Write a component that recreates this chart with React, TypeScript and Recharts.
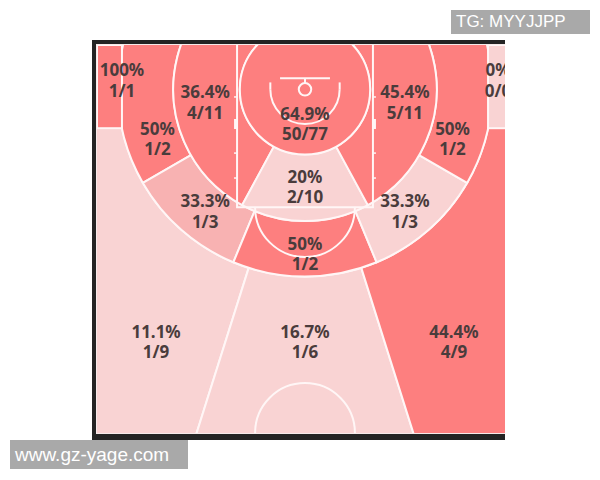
import { Scatter, ScatterChart, Sector, XAxis, YAxis } from 'recharts';

// shot zones (same index in every array)
const zoneNames = [
  'Left Corner 3',
  'Left Baseline Mid',
  'Left Paint',
  'Restricted Area',
  'Right Paint',
  'Right Baseline Mid',
  'Right Corner 3',
  'Paint Center',
  'Left Wing Mid',
  'Right Wing Mid',
  'Top Mid',
  'Left Above Break 3',
  'Top 3',
  'Right Above Break 3',
];
const made = [1, 1, 4, 50, 5, 1, 0, 2, 1, 1, 1, 1, 1, 4];
const attempts = [1, 2, 11, 77, 11, 2, 0, 10, 3, 3, 2, 9, 6, 9];
const pctLabels = ['100%', '50%', '36.4%', '64.9%', '45.4%', '50%', '0%', '20%', '33.3%', '33.3%', '50%', '11.1%', '16.7%', '44.4%'];
const heat = ['hot', 'hot', 'hot', 'hot', 'hot', 'hot', 'cold', 'cold', 'warm', 'cold', 'hot', 'cold', 'cold', 'hot'];

// court layout: FIBA half court in metres, hoop on x = 0
const COURT_W = 15;
const COURT_H = 14;
const CHART_W = 416;
const CHART_H = 388;
const PX = CHART_W / COURT_W;
const HOOP_Y = 1.6;
const R_CLOSE = 2.35;
const R_MID = 4.75;
const R_THREE = 6.75;
const R_FAR = 16;
const CORNER_X = 6.6;
const CORNER_Y = 3.0;
const FT_Y = 5.85;
const LANE_X = 2.45;

const FILL: Record<string, string> = { hot: '#fd7f7f', warm: '#f8b2b2', cold: '#f9d3d3' };
const LINE = '#fff6f6';
const LINE_W = 2;
const TEXT = '#4a3c3c';

type Wedge = { zone: number; inner: number; outer: number; start: number; end: number; edge?: boolean };

// angles: 0 = right, counter-clockwise, -90 = straight down from the hoop
const outerWedges: Wedge[] = [
  { zone: 11, inner: R_THREE, outer: R_FAR, start: -270, end: -107.5 },
  { zone: 12, inner: R_THREE, outer: R_FAR, start: -107.5, end: -72.5 },
  { zone: 13, inner: R_THREE, outer: R_FAR, start: -72.5, end: 90 },
  { zone: 1, inner: R_MID, outer: R_THREE, start: -270, end: -150 },
  { zone: 8, inner: R_MID, outer: R_THREE, start: -150, end: -112.5 },
  { zone: 10, inner: R_MID, outer: R_THREE, start: -112.5, end: -67.5 },
  { zone: 9, inner: R_MID, outer: R_THREE, start: -67.5, end: -30 },
  { zone: 5, inner: R_MID, outer: R_THREE, start: -30, end: 90 },
];
const innerWedges: Wedge[] = [
  { zone: 2, inner: R_CLOSE, outer: R_MID, start: -270, end: -118.5 },
  { zone: 7, inner: R_CLOSE, outer: R_MID, start: -118.5, end: -61.5 },
  { zone: 4, inner: R_CLOSE, outer: R_MID, start: -61.5, end: 90 },
  { zone: 3, inner: 0, outer: R_CLOSE, start: -270, end: 90, edge: false },
];
const cornerBoxes = [
  { zone: 0, x: -COURT_W / 2, y: 0, w: COURT_W / 2 - CORNER_X, h: CORNER_Y },
  { zone: 6, x: CORNER_X, y: 0, w: COURT_W / 2 - CORNER_X, h: CORNER_Y },
];
const arcs = [
  { x: 0, y: HOOP_Y, r: R_CLOSE, full: true },
  { x: 0, y: HOOP_Y, r: 0.225, full: true },
  { x: 0, y: HOOP_Y, r: 1.25, from: 180, to: 360 },
  { x: 0, y: FT_Y, r: 1.8, from: 180, to: 360 },
  { x: 0, y: COURT_H, r: 1.8, from: 0, to: 180 },
];
const courtLines = [
  [[-LANE_X, 0], [-LANE_X, FT_Y], [LANE_X, FT_Y], [LANE_X, 0]],
  [[-0.9, 1.2], [0.9, 1.2]],
  [[0, 1.2], [0, HOOP_Y - 0.225]],
  [[-1.25, 1.35], [-1.25, HOOP_Y]],
  [[1.25, 1.35], [1.25, HOOP_Y]],
];
const laneTicks = [1.875, 3.9, 4.8];
const laneBlock = { y: 2.67, h: 0.36 };
const labelSpots = [
  [-6.6, 1.28], [-5.32, 3.39], [-3.6, 2.06], [0, 2.85], [3.6, 2.06], [5.32, 3.39], [6.96, 1.28],
  [0, 5.11], [-3.6, 5.99], [3.6, 5.99], [0, 7.54], [-5.37, 10.71], [0, 10.71], [5.37, 10.71],
];

const polar = (cx: number, cy: number, r: number, deg: number) => ({
  x: cx + r * Math.cos((deg * Math.PI) / 180),
  y: cy - r * Math.sin((deg * Math.PI) / 180),
});

function WedgeShape(props: any) {
  const { cx, cy, payload } = props;
  return (
    <Sector
      cx={cx}
      cy={cy}
      innerRadius={payload.inner * PX}
      outerRadius={payload.outer * PX}
      startAngle={payload.start}
      endAngle={payload.end}
      fill={FILL[heat[payload.zone]]}
      stroke={payload.edge === false ? 'none' : LINE}
      strokeWidth={LINE_W}
    />
  );
}

function BoxShape(props: any) {
  const { cx, cy, payload } = props;
  return (
    <rect
      x={cx}
      y={cy}
      width={payload.w * PX}
      height={payload.h * PX}
      fill={FILL[heat[payload.zone]]}
      stroke={LINE}
      strokeWidth={LINE_W}
    />
  );
}

function ArcShape(props: any) {
  const { cx, cy, payload } = props;
  const r = payload.r * PX;
  if (payload.full) {
    return <circle cx={cx} cy={cy} r={r} fill="none" stroke={LINE} strokeWidth={LINE_W} />;
  }
  const p1 = polar(cx, cy, r, payload.from);
  const p2 = polar(cx, cy, r, payload.to);
  const large = payload.to - payload.from > 180 ? 1 : 0;
  return (
    <path
      d={`M${p1.x},${p1.y} A${r},${r} 0 ${large} 0 ${p2.x},${p2.y}`}
      fill="none"
      stroke={LINE}
      strokeWidth={LINE_W}
    />
  );
}

function TickShape(props: any) {
  const { cx, cy, payload } = props;
  if (payload.block) {
    const x = payload.side < 0 ? cx - 3 : cx;
    return <rect x={x} y={cy} width={3} height={laneBlock.h * PX} fill={LINE} />;
  }
  return <line x1={cx} y1={cy} x2={cx + payload.side * 3} y2={cy} stroke={LINE} strokeWidth={1.5} />;
}

function LabelShape(props: any) {
  const { cx, cy, payload } = props;
  const z = payload.zone;
  return (
    <text
      x={cx}
      y={cy - 4}
      textAnchor="middle"
      fontFamily="'Noto Sans', sans-serif"
      fontWeight={700}
      fontSize={17}
      fill={TEXT}
    >
      <tspan x={cx}>{pctLabels[z]}</tspan>
      <tspan x={cx} dy={20.5}>{`${made[z]}/${attempts[z]}`}</tspan>
    </text>
  );
}

const NoDot = () => null;

export default function App() {
  const toHoop = (w: Wedge) => ({ x: 0, y: HOOP_Y, ...w });
  const ticks = [-1, 1].flatMap((side) => [
    ...laneTicks.map((y) => ({ x: side * LANE_X, y, side })),
    { x: side * LANE_X, y: laneBlock.y, side, block: true },
  ]);
  const labels = zoneNames.map((name, i) => ({ name, zone: i, x: labelSpots[i][0], y: labelSpots[i][1] }));

  return (
    <div style={{ position: 'absolute', left: 0, top: 0, width: 600, height: 480, background: '#fff', overflow: 'hidden' }}>
      <div style={{ position: 'absolute', left: 92, top: 40, width: 413, height: 400, background: '#242424' }} />
      <div style={{ position: 'absolute', left: 96, top: 44, width: 409, height: 390, background: '#f6eaea' }} />
      <div style={{ position: 'absolute', left: 97, top: 45, width: 408, height: CHART_H, overflow: 'hidden' }}>
        <ScatterChart width={CHART_W} height={CHART_H} margin={{ top: 0, right: 0, bottom: 0, left: 0 }}>
          <XAxis type="number" dataKey="x" domain={[-COURT_W / 2, COURT_W / 2]} hide allowDataOverflow />
          <YAxis type="number" dataKey="y" domain={[0, COURT_H]} reversed hide allowDataOverflow />
          <Scatter data={outerWedges.map(toHoop)} shape={WedgeShape} isAnimationActive={false} />
          <Scatter data={cornerBoxes} shape={BoxShape} isAnimationActive={false} />
          <Scatter data={innerWedges.map(toHoop)} shape={WedgeShape} isAnimationActive={false} />
          <Scatter data={arcs} shape={ArcShape} isAnimationActive={false} />
          {courtLines.map((pts, i) => (
            <Scatter
              key={i}
              data={pts.map(([x, y]) => ({ x, y }))}
              line={{ stroke: LINE, strokeWidth: LINE_W }}
              shape={NoDot}
              isAnimationActive={false}
            />
          ))}
          <Scatter data={ticks} shape={TickShape} isAnimationActive={false} />
          <Scatter data={labels} shape={LabelShape} isAnimationActive={false} />
        </ScatterChart>
      </div>
      <div
        style={{
          position: 'absolute',
          left: 451,
          top: 10,
          width: 139,
          height: 24,
          background: '#a9a9a9',
          color: '#fff',
          fontFamily: "'Liberation Sans', Arial, sans-serif",
          fontSize: 17,
          lineHeight: '24px',
          paddingLeft: 5,
          boxSizing: 'border-box',
        }}
      >
        TG: MYYJJPP
      </div>
      <div
        style={{
          position: 'absolute',
          left: 10,
          top: 440,
          width: 178,
          height: 29,
          background: '#a9a9a9',
          color: '#fff',
          fontFamily: "'Liberation Sans', Arial, sans-serif",
          fontSize: 19,
          lineHeight: '29px',
          paddingLeft: 5,
          boxSizing: 'border-box',
        }}
      >
        www.gz-yage.com
      </div>
    </div>
  );
}
